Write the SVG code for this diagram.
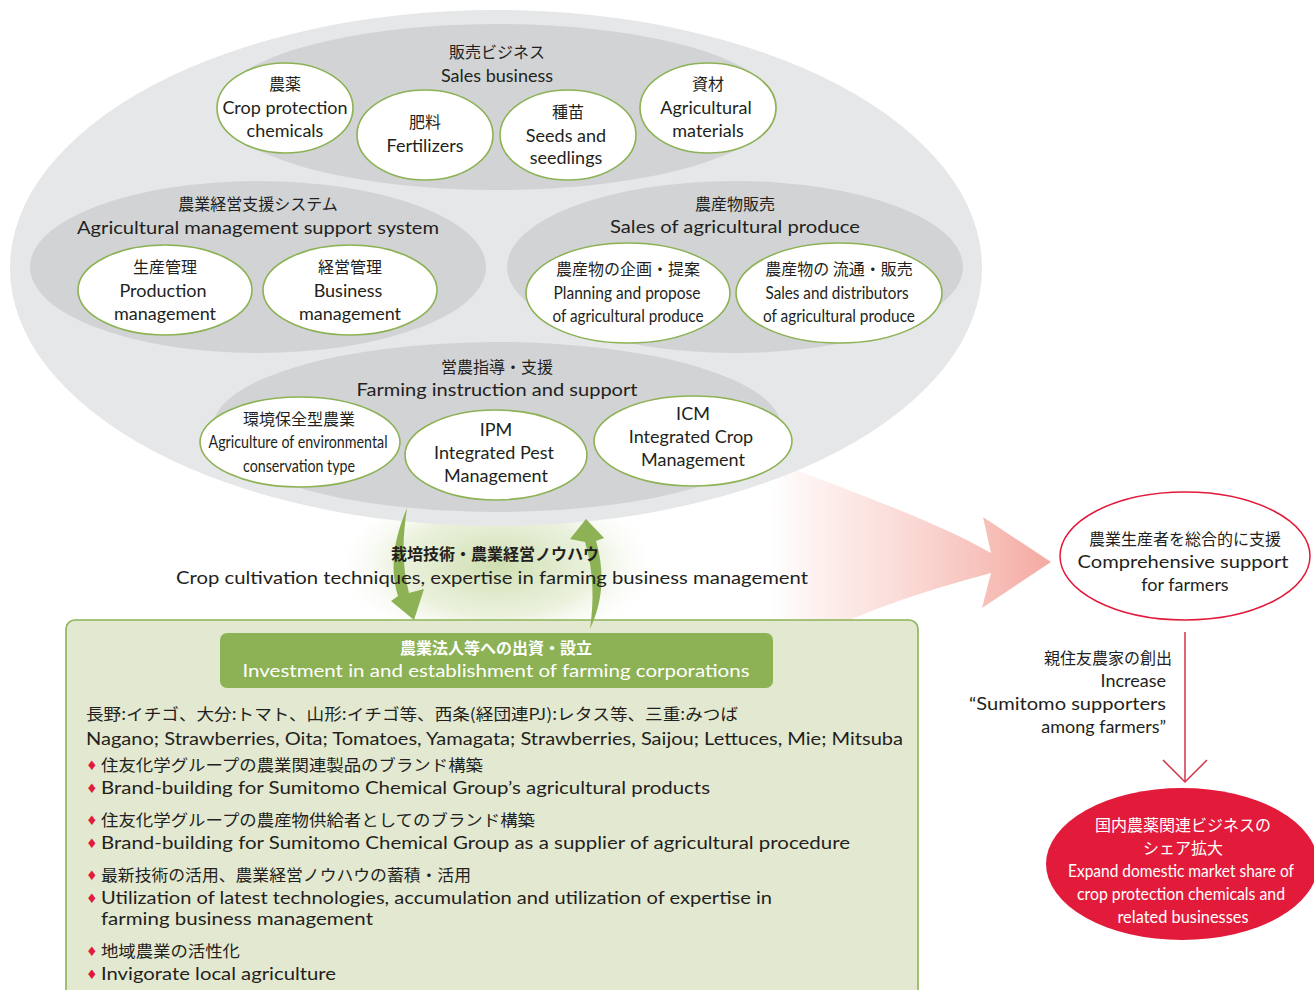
<svg xmlns="http://www.w3.org/2000/svg" width="1314" height="990" viewBox="0 0 1314 990">
<style>
text{font-family:Lato,"Noto Sans","Noto Sans CJK JP",sans-serif;fill:#231f20;text-anchor:middle}
.jp{font-family:"Noto Sans CJK JP",sans-serif;font-size:16px}
.en{font-size:18px}
.b{font-weight:bold}
.w{fill:#fff}
.l{text-anchor:start}
.r{text-anchor:end}
.node{fill:#fff;stroke:#8db255;stroke-width:1.6}
.outer{fill:#e6e7e8}
.inner{fill:#d1d3d4}
.dia{fill:#e31b3b;font-family:"DejaVu Sans",sans-serif;font-size:13px}
</style>
<defs>
<linearGradient id="pink" gradientUnits="userSpaceOnUse" x1="770" y1="0" x2="1050" y2="0">
<stop offset="0" stop-color="#f3a79f" stop-opacity="0"/>
<stop offset="0.45" stop-color="#f5b3ab" stop-opacity="0.45"/>
<stop offset="1" stop-color="#f4aaa2" stop-opacity="1"/>
</linearGradient>
<radialGradient id="glow" cx="497" cy="565" r="1" gradientUnits="userSpaceOnUse" gradientTransform="translate(497 565) scale(165 85) translate(-497 -565)">
<stop offset="0" stop-color="#cfdeb0" stop-opacity="1"/>
<stop offset="0.6" stop-color="#e0eacb" stop-opacity="0.65"/>
<stop offset="1" stop-color="#ffffff" stop-opacity="0"/>
</radialGradient>
</defs>
<rect width="1314" height="990" fill="#fff"/>
<g id="pink-arrow">
<path d="M740,448 C840,488 930,518 991,553 L983,517 L1051,562 L982,608 L991,573 C920,592 820,622 720,690 Z" fill="url(#pink)"/>
</g>
<g id="glow-bg"><ellipse cx="497" cy="565" rx="165" ry="85" fill="url(#glow)"/></g>
<g id="outer-ellipse"><ellipse class="outer" cx="496" cy="268" rx="486" ry="258"/></g>
<g id="sales-business">
<ellipse class="inner" cx="497" cy="107" rx="280" ry="83"/>
<text class="jp" x="497" y="58">販売ビジネス</text>
<text class="en" x="497" y="82">Sales business</text>
</g>
<g id="node-crop-protection">
<ellipse class="node" cx="285" cy="108" rx="68" ry="45"/>
<text class="jp" x="285" y="90">農薬</text>
<text class="en" x="285" y="114">Crop protection</text>
<text class="en" x="285" y="137">chemicals</text>
</g>
<g id="node-fertilizers">
<ellipse class="node" cx="425" cy="135" rx="68" ry="45"/>
<text class="jp" x="425" y="128">肥料</text>
<text class="en" x="425" y="152">Fertilizers</text>
</g>
<g id="node-seeds">
<ellipse class="node" cx="568" cy="135" rx="68" ry="45"/>
<text class="jp" x="568" y="118">種苗</text>
<text class="en" x="566" y="142">Seeds and</text>
<text class="en" x="566" y="164">seedlings</text>
</g>
<g id="node-materials">
<ellipse class="node" cx="708" cy="108" rx="68" ry="45"/>
<text class="jp" x="708" y="90">資材</text>
<text class="en" x="706" y="114">Agricultural</text>
<text class="en" x="708" y="137">materials</text>
</g>
<g id="management-system">
<ellipse class="inner" cx="258" cy="267" rx="228" ry="86"/>
<text class="jp" x="258" y="210">農業経営支援システム</text>
<text class="en" x="258" y="234" textLength="362" lengthAdjust="spacingAndGlyphs">Agricultural management support system</text>
</g>
<g id="node-production">
<ellipse class="node" cx="165" cy="290" rx="87" ry="45"/>
<text class="jp" x="165" y="273">生産管理</text>
<text class="en" x="163" y="297">Production</text>
<text class="en" x="165" y="320">management</text>
</g>
<g id="node-business">
<ellipse class="node" cx="350" cy="290" rx="87" ry="45"/>
<text class="jp" x="350" y="273">経営管理</text>
<text class="en" x="348" y="297">Business</text>
<text class="en" x="350" y="320">management</text>
</g>
<g id="sales-produce">
<ellipse class="inner" cx="735" cy="267" rx="228" ry="86"/>
<text class="jp" x="735" y="210">農産物販売</text>
<text class="en" x="735" y="233" textLength="250" lengthAdjust="spacingAndGlyphs">Sales of agricultural produce</text>
</g>
<g id="node-planning">
<ellipse class="node" cx="628" cy="293" rx="102" ry="50"/>
<text class="jp" x="628" y="275">農産物の企画・提案</text>
<text class="en" x="627" y="299" textLength="147" lengthAdjust="spacingAndGlyphs">Planning and propose</text>
<text class="en" x="628" y="322" textLength="151" lengthAdjust="spacingAndGlyphs">of agricultural produce</text>
</g>
<g id="node-distributors">
<ellipse class="node" cx="839" cy="293" rx="103" ry="50"/>
<text class="jp" x="839" y="275">農産物の 流通・販売</text>
<text class="en" x="837" y="299" textLength="143" lengthAdjust="spacingAndGlyphs">Sales and distributors</text>
<text class="en" x="839" y="322" textLength="152" lengthAdjust="spacingAndGlyphs">of agricultural produce</text>
</g>
<g id="farming-instruction">
<ellipse class="inner" cx="497" cy="427" rx="284" ry="85"/>
<text class="jp" x="497" y="373">営農指導・支援</text>
<text class="en" x="497" y="396" textLength="281" lengthAdjust="spacingAndGlyphs">Farming instruction and support</text>
</g>
<g id="node-environmental">
<ellipse class="node" cx="300" cy="442" rx="100" ry="45"/>
<text class="jp" x="299" y="425">環境保全型農業</text>
<text class="en" x="298" y="448" textLength="179" lengthAdjust="spacingAndGlyphs">Agriculture of environmental</text>
<text class="en" x="299" y="472" textLength="112" lengthAdjust="spacingAndGlyphs">conservation type</text>
</g>
<g id="node-ipm">
<ellipse class="node" cx="496" cy="455" rx="91" ry="45"/>
<text class="en" x="496" y="436">IPM</text>
<text class="en" x="494" y="459">Integrated Pest</text>
<text class="en" x="496" y="482">Management</text>
</g>
<g id="node-icm">
<ellipse class="node" cx="693" cy="441" rx="99" ry="45"/>
<text class="en" x="693" y="420">ICM</text>
<text class="en" x="691" y="443">Integrated Crop</text>
<text class="en" x="693" y="466">Management</text>
</g>
<g id="invest-box">
<rect x="66" y="620" width="852" height="390" rx="9" fill="#e3e9d1" stroke="#8db255" stroke-width="1.6"/>
<rect x="220" y="633" width="553" height="55" rx="7" fill="#8db255"/>
<text class="jp b w" x="496" y="654">農業法人等への出資・設立</text>
<text class="en w" x="496" y="677" textLength="507" lengthAdjust="spacingAndGlyphs">Investment in and establishment of  farming corporations</text>
<text class="jp l" x="86" y="720" textLength="652" lengthAdjust="spacingAndGlyphs">長野:イチゴ、大分:トマト、山形:イチゴ等、西条(経団連PJ):レタス等、三重:みつば</text>
<text class="en l" x="86" y="745" textLength="817" lengthAdjust="spacingAndGlyphs">Nagano; Strawberries, Oita; Tomatoes, Yamagata; Strawberries, Saijou; Lettuces, Mie; Mitsuba</text>
<text class="dia l" x="86" y="770">♦</text>
<text class="jp l" x="101" y="771" textLength="382" lengthAdjust="spacingAndGlyphs">住友化学グループの農業関連製品のブランド構築</text>
<text class="dia l" x="86" y="793">♦</text>
<text class="en l" x="101" y="794" textLength="609" lengthAdjust="spacingAndGlyphs">Brand-building for Sumitomo Chemical Group’s agricultural products</text>
<text class="dia l" x="86" y="825">♦</text>
<text class="jp l" x="101" y="826" textLength="434" lengthAdjust="spacingAndGlyphs">住友化学グループの農産物供給者としてのブランド構築</text>
<text class="dia l" x="86" y="848">♦</text>
<text class="en l" x="101" y="849" textLength="749" lengthAdjust="spacingAndGlyphs">Brand-building for Sumitomo Chemical Group as a supplier of agricultural procedure</text>
<text class="dia l" x="86" y="880">♦</text>
<text class="jp l" x="101" y="881" textLength="370" lengthAdjust="spacingAndGlyphs">最新技術の活用、農業経営ノウハウの蓄積・活用</text>
<text class="dia l" x="86" y="903">♦</text>
<text class="en l" x="101" y="904" textLength="671" lengthAdjust="spacingAndGlyphs">Utilization of latest technologies, accumulation and utilization of expertise in</text>
<text class="en l" x="101" y="925" textLength="272" lengthAdjust="spacingAndGlyphs">farming business management</text>
<text class="dia l" x="86" y="956">♦</text>
<text class="jp l" x="101" y="957" textLength="139" lengthAdjust="spacingAndGlyphs">地域農業の活性化</text>
<text class="dia l" x="86" y="979">♦</text>
<text class="en l" x="101" y="980" textLength="235" lengthAdjust="spacingAndGlyphs">Invigorate local agriculture</text>
</g>
<g id="connectors">
<path d="M407,508 C397,532 388,562 398,596 L391,601 L414,620 L424,589 L409,593 C401,563 403,535 407,508 Z" fill="#8db255"/>
<path d="M590,629 C603,602 605,572 596,541 L604,538 L586,519 L570,539 L585,542 C594,572 594,602 590,629 Z" fill="#8db255"/>
<line x1="1185" y1="632" x2="1185" y2="781" stroke="#d2354b" stroke-width="1.5"/>
<polyline points="1163,760 1185,782 1207,760" fill="none" stroke="#d2354b" stroke-width="1.5"/>
</g>
<g id="know-how-label">
<text class="jp b" x="495" y="560">栽培技術・農業経営ノウハウ</text>
<text class="en" x="492" y="584" textLength="632" lengthAdjust="spacingAndGlyphs">Crop cultivation techniques, expertise in farming business management</text>
</g>
<g id="node-comprehensive">
<ellipse cx="1185" cy="556" rx="125" ry="64" fill="#fff" stroke="#e31b3b" stroke-width="1.5"/>
<text class="jp" x="1185" y="545">農業生産者を総合的に支援</text>
<text class="en" x="1183" y="568" textLength="211" lengthAdjust="spacingAndGlyphs">Comprehensive support</text>
<text class="en" x="1185" y="591">for farmers</text>
</g>
<g id="increase-label">
<text class="jp r" x="1172" y="664">親住友農家の創出</text>
<text class="en r" x="1166" y="687">Increase</text>
<text class="en r" x="1166" y="710" textLength="197" lengthAdjust="spacingAndGlyphs">“Sumitomo supporters</text>
<text class="en r" x="1166" y="733">among farmers”</text>
</g>
<g id="node-expand">
<ellipse cx="1182" cy="864" rx="136" ry="76" fill="#e31b3b"/>
<text class="jp w" x="1183" y="831">国内農薬関連ビジネスの</text>
<text class="jp w" x="1183" y="854">シェア拡大</text>
<text class="en w" x="1181" y="877" textLength="226" lengthAdjust="spacingAndGlyphs">Expand domestic market share of</text>
<text class="en w" x="1181" y="900" textLength="208" lengthAdjust="spacingAndGlyphs">crop protection chemicals and</text>
<text class="en w" x="1183" y="923" textLength="131" lengthAdjust="spacingAndGlyphs">related businesses</text>
</g>
</svg>
